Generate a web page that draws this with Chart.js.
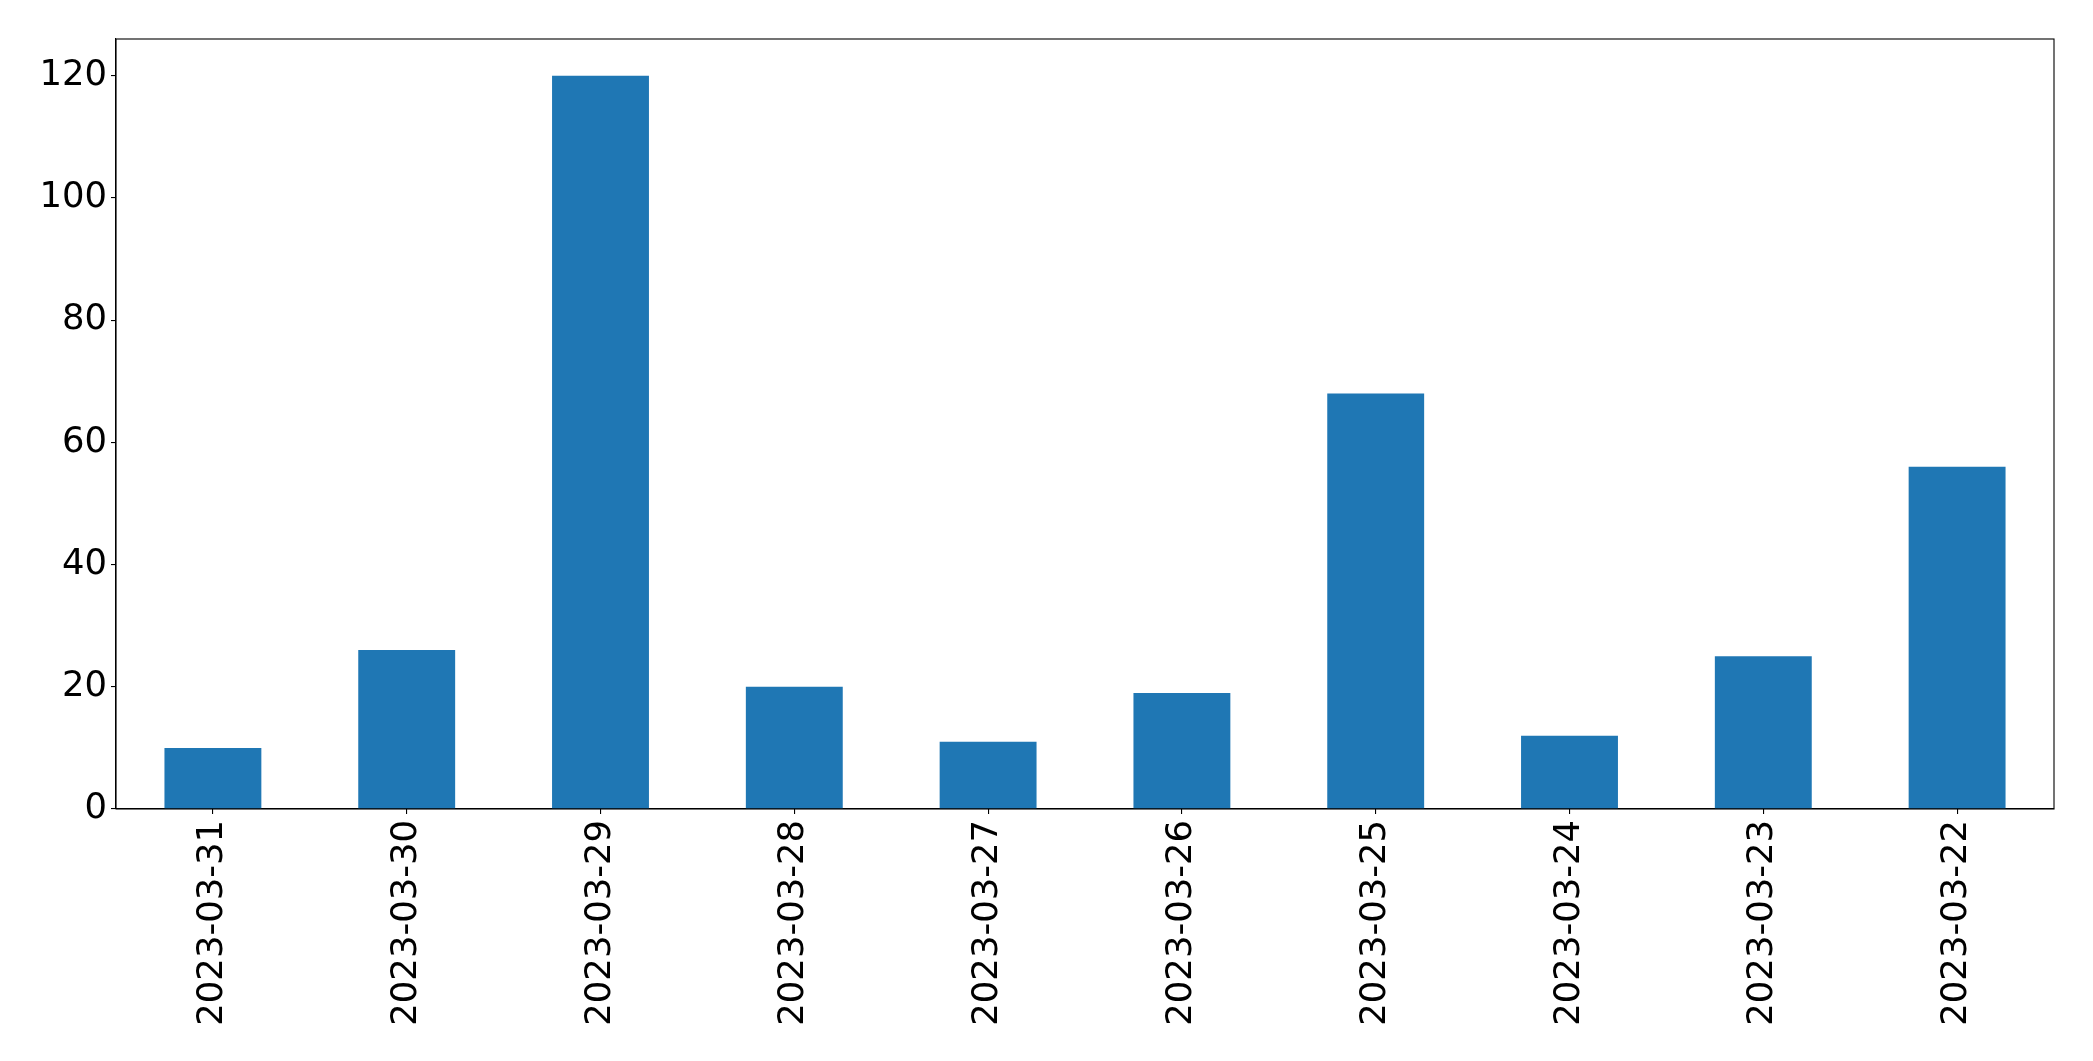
<!DOCTYPE html>
<html>
<head>
<meta charset="utf-8">
<script src="https://cdn.jsdelivr.net/npm/chart.js@4"></script>
<style>
  html, body { margin:0; padding:0; background:#fff; }
  #wrap { width:2093px; height:1061px; }
</style>
</head>
<body>
<div id="wrap"><canvas id="barChart" width="2093" height="1061"></canvas></div>
<script>
// =====================================
// DATA
// =====================================

const dates = [
  "2023-03-31", "2023-03-30", "2023-03-29", "2023-03-28", "2023-03-27",
  "2023-03-26", "2023-03-25", "2023-03-24", "2023-03-23", "2023-03-22"
];

const counts = [10, 26, 120, 20, 11, 19, 68, 12, 25, 56];

const yTicks = [0, 20, 40, 60, 80, 100, 120];

const yMax = 126;

// =====================================
// FRAME PLUGIN (matplotlib style box)
// =====================================

const frame = {
  id: "frame",
  afterDraw(chart){
    const a = chart.chartArea;
    const c = chart.ctx;
    c.save();
    c.strokeStyle = "#000";
    c.lineWidth = 1.1;
    c.strokeRect(a.left, a.top, a.right - a.left, a.bottom - a.top);
    c.restore();
  }
};

const font = { family: "DejaVu Sans", size: 35.4 };

new Chart(document.getElementById("barChart").getContext("2d"), {
  type: "bar",
  data: {
    labels: dates,
    datasets: [{
      data: counts,
      backgroundColor: "#1f77b4",
      borderWidth: 0,
      categoryPercentage: 1,
      barPercentage: 0.5
    }]
  },
  options: {
    responsive: false,
    animation: false,
    layout: { padding: { top: 39, right: 39, left: 0, bottom: 0 } },
    plugins: { legend: { display: false }, tooltip: { enabled: false } },
    scales: {
      x: {
        afterFit(s){ s.height = 252; },
        grid: { offset: false, drawOnChartArea: false, drawTicks: true, tickLength: 5, color: "#000", lineWidth: 1.1 },
        border: { color: "#000", width: 1.1 },
        ticks: { color: "#000", font, minRotation: 90, maxRotation: 90, padding: 6, autoSkip: false }
      },
      y: {
        min: 0,
        max: yMax,
        afterFit(s){ s.width = 116; },
        afterBuildTicks(s){ s.ticks = yTicks.map(v => ({ value: v })); },
        grid: { drawOnChartArea: false, drawTicks: true, tickLength: 5, color: "#000", lineWidth: 1.1 },
        border: { color: "#000", width: 1.1 },
        ticks: { color: "#000", font, padding: 4 }
      }
    }
  },
  plugins: [frame]
});
</script>
</body>
</html>
